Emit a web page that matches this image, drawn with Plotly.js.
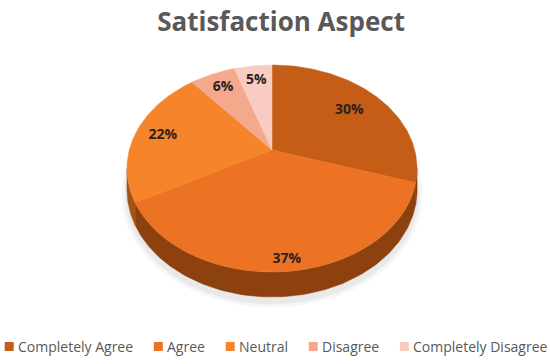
<!DOCTYPE html>
<html>
<head>
<meta charset="utf-8">
<script src="https://cdn.plot.ly/plotly-3.0.1.min.js"></script>
<style>html,body{margin:0;padding:0;background:#fff;}#chart{width:550px;height:364px;}</style>
</head>
<body>
<div id="chart"></div>
<script>
// ---- data ----
const categories = ["Completely Agree", "Agree", "Neutral", "Disagree", "Completely Disagree"];
const values = [30, 37, 22, 6, 5];
const valueLabels = ["30%", "37%", "22%", "6%", "5%"];

// ---- styles ----
const topColors  = ["#C65D17", "#ED7324", "#F5842A", "#F5A98C", "#F8CCC0"];
const wallColors = ["#843C0D", "#8C410E", "#A35219", "#B0705A", "#B89083"];
const legendColors = ["#C65D17", "#ED7324", "#F5842A", "#F5A98C", "#F8CCC0"];
const labelRadius = [0.72, 0.92, 0.8, 0.8, 0.8];
const FONT = "'Open Sans', Lato, sans-serif";

// ---- projection of a tilted pie (pixel-like axis space) ----
const CX = 272, CY = 150, RX = 142.7, RY = 100.2, P = 0.179, H0 = 20.5;
function proj(r, thDeg, drop) {
  const th = thDeg * Math.PI / 180;
  const X = r * Math.sin(th), Z = -r * Math.cos(th);
  const w = 1 / (1 - P * Z);
  return [CX + RX * X * w, CY + RY * Z * w + drop * w];
}
function arc(r, a0, a1, drop) {
  const pts = [];
  const n = Math.max(2, Math.ceil(Math.abs(a1 - a0)));
  for (let i = 0; i <= n; i++) pts.push(proj(r, a0 + (a1 - a0) * i / n, drop));
  return pts;
}

const total = values.reduce((a, b) => a + b, 0);
const starts = [], ends = [];
let acc = 0;
values.forEach(v => { starts.push(acc / total * 360); acc += v; ends.push(acc / total * 360); });

const traces = [];
// soft shadow
[[1.035, 0.035], [1.015, 0.05]].forEach(([r, a]) => {
  const pts = arc(r, 0, 360, H0 + 4);
  traces.push({type: "scatter", mode: "lines", x: pts.map(p => p[0]), y: pts.map(p => p[1]),
    fill: "toself", fillcolor: "rgba(0,0,0," + a + ")", line: {width: 0, color: "rgba(0,0,0,0)"},
    showlegend: false, hoverinfo: "skip"});
});
// walls (visible front half)
const thR = Math.acos(-P) * 180 / Math.PI;
const thL = 360 - thR;
values.forEach((v, i) => {
  const a0 = Math.max(starts[i], thR), a1 = Math.min(ends[i], thL);
  if (a1 <= a0) return;
  const topPts = arc(1, a0, a1, 0);
  const botPts = arc(1, a0, a1, H0).reverse();
  const pts = topPts.concat(botPts);
  pts.push(topPts[0]);
  traces.push({type: "scatter", mode: "lines", x: pts.map(p => p[0]), y: pts.map(p => p[1]),
    fill: "toself", fillcolor: wallColors[i], line: {width: 0.5, color: wallColors[i]},
    showlegend: false, hoverinfo: "skip"});
});
// top faces
values.forEach((v, i) => {
  const pts = [proj(0, 0, 0)].concat(arc(1, starts[i], ends[i], 0));
  pts.push(proj(0, 0, 0));
  traces.push({type: "scatter", mode: "lines", x: pts.map(p => p[0]), y: pts.map(p => p[1]),
    fill: "toself", fillcolor: topColors[i], line: {width: 0.5, color: topColors[i]},
    name: categories[i], showlegend: false, hoverinfo: "name"});
});
// labels
{
  const lp = values.map((v, i) => proj(labelRadius[i], (starts[i] + ends[i]) / 2, 0));
  traces.push({type: "scatter", mode: "text", x: lp.map(p => p[0]), y: lp.map(p => p[1]),
    text: valueLabels, textposition: "middle center",
    textfont: {family: FONT, size: 14, color: "#2A221C", weight: "bold"},
    showlegend: false, hoverinfo: "skip"});
}

// ---- manual legend (single row, measured text) ----
const LEG_SIZE = 14, LEG_Y = 346.5, SQ = 9, SQ_GAP = 4, ITEM_GAP = 21;
const ctx = document.createElement("canvas").getContext("2d");
ctx.font = LEG_SIZE + "px 'Open Sans'";
const tw = categories.map(c => ctx.measureText(c).width);
const totalW = tw.reduce((s, w) => s + SQ + SQ_GAP + w, 0) + ITEM_GAP * (categories.length - 1);
let lx = 276 - totalW / 2;
const sqX = [], annotations = [];
categories.forEach((c, i) => {
  sqX.push(lx + SQ / 2);
  annotations.push({x: lx + SQ + SQ_GAP - 1, y: LEG_Y, xref: "x", yref: "y", text: c, showarrow: false,
    xanchor: "left", yanchor: "middle", borderpad: 0,
    font: {family: FONT, size: LEG_SIZE, color: "#595959"}});
  lx += SQ + SQ_GAP + tw[i] + ITEM_GAP;
});
traces.push({type: "scatter", mode: "markers", x: sqX, y: sqX.map(() => LEG_Y),
  marker: {symbol: "square", size: SQ, color: legendColors, line: {width: 0}},
  showlegend: false, hoverinfo: "skip"});

const layout = {
  width: 550, height: 364,
  margin: {l: 0, r: 0, t: 0, b: 0, autoexpand: false},
  paper_bgcolor: "#ffffff", plot_bgcolor: "#ffffff",
  font: {family: FONT, color: "#595959"},
  title: {text: "<b>Satisfaction Aspect</b>", x: 0.511, xanchor: "center", y: 0.94, yanchor: "middle",
    font: {family: FONT, size: 26, color: "#595959"}},
  xaxis: {range: [0, 550], visible: false, fixedrange: true},
  yaxis: {range: [364, 0], visible: false, fixedrange: true},
  showlegend: false,
  annotations: annotations
};
Plotly.newPlot("chart", traces, layout, {displayModeBar: false, staticPlot: true});
</script>
</body>
</html>
